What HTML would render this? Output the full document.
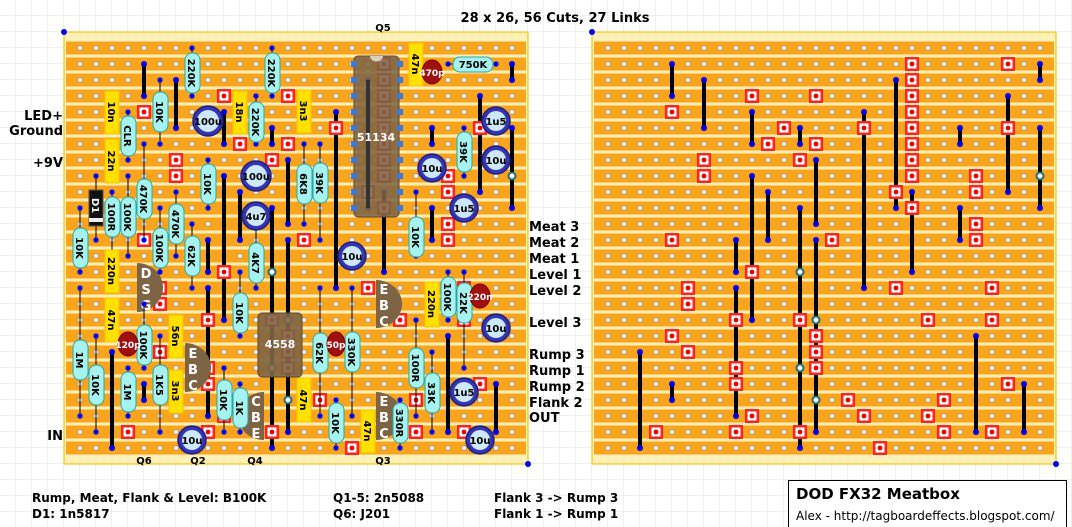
<!DOCTYPE html>
<html><head><meta charset="utf-8"><style>
html,body{margin:0;padding:0;background:#fff}
svg{display:block}
.t{font-family:"DejaVu Sans","Liberation Sans",sans-serif;font-weight:bold}
.rl{font-family:"DejaVu Sans","Liberation Sans",sans-serif;font-weight:bold;font-size:10px;fill:#000}
</style></head><body>
<svg width="1072" height="527" viewBox="0 0 1072 527" xmlns="http://www.w3.org/2000/svg">
<defs>
<pattern id="grid" width="16" height="16" patternUnits="userSpaceOnUse"><path d="M16 0V16H0" fill="none" stroke="#e2e2e2" stroke-width="1"/></pattern>
<pattern id="holes" x="0" y="0" width="16" height="16" patternUnits="userSpaceOnUse"><circle cx="0" cy="0" r="2.3" fill="#fff" stroke="#999" stroke-width="0.8"/><circle cx="16" cy="0" r="2.3" fill="#fff" stroke="#999" stroke-width="0.8"/><circle cx="0" cy="16" r="2.3" fill="#fff" stroke="#999" stroke-width="0.8"/><circle cx="16" cy="16" r="2.3" fill="#fff" stroke="#999" stroke-width="0.8"/></pattern>
<symbol id="cut" overflow="visible"><rect x="-7" y="-7" width="14" height="14" fill="#f22"/><rect x="-4.5" y="-4.5" width="9" height="9" fill="#fff"/><circle r="2.4" fill="#e00"/></symbol>
<g id="board">
<rect x="0" y="0" width="464" height="432" fill="#fdf0b8" stroke="#f2c400" stroke-width="1.2"/>
<g fill="#f8a41c">
<rect x="2" y="9.5" width="460" height="13"/><rect x="2" y="25.5" width="460" height="13"/><rect x="2" y="41.5" width="460" height="13"/><rect x="2" y="57.5" width="460" height="13"/><rect x="2" y="73.5" width="460" height="13"/><rect x="2" y="89.5" width="460" height="13"/><rect x="2" y="105.5" width="460" height="13"/><rect x="2" y="121.5" width="460" height="13"/><rect x="2" y="137.5" width="460" height="13"/><rect x="2" y="153.5" width="460" height="13"/><rect x="2" y="169.5" width="460" height="13"/><rect x="2" y="185.5" width="460" height="13"/><rect x="2" y="201.5" width="460" height="13"/><rect x="2" y="217.5" width="460" height="13"/><rect x="2" y="233.5" width="460" height="13"/><rect x="2" y="249.5" width="460" height="13"/><rect x="2" y="265.5" width="460" height="13"/><rect x="2" y="281.5" width="460" height="13"/><rect x="2" y="297.5" width="460" height="13"/><rect x="2" y="313.5" width="460" height="13"/><rect x="2" y="329.5" width="460" height="13"/><rect x="2" y="345.5" width="460" height="13"/><rect x="2" y="361.5" width="460" height="13"/><rect x="2" y="377.5" width="460" height="13"/><rect x="2" y="393.5" width="460" height="13"/><rect x="2" y="409.5" width="460" height="13"/>
</g>
<rect x="8" y="8" width="448" height="416" fill="url(#holes)"/>
</g>
<g id="tracks">
<g stroke="#000" stroke-width="4">
<line x1="672" y1="64" x2="672" y2="96"/><line x1="704" y1="80" x2="704" y2="128"/><line x1="752" y1="112" x2="752" y2="144"/><line x1="800" y1="128" x2="800" y2="144"/><line x1="864" y1="112" x2="864" y2="288"/><line x1="896" y1="80" x2="896" y2="208"/><line x1="960" y1="128" x2="960" y2="144"/><line x1="1008" y1="96" x2="1008" y2="192"/><line x1="1040" y1="64" x2="1040" y2="80"/><line x1="1040" y1="128" x2="1040" y2="208"/><line x1="912" y1="192" x2="912" y2="272"/><line x1="816" y1="160" x2="816" y2="224"/><line x1="768" y1="192" x2="768" y2="240"/><line x1="752" y1="176" x2="752" y2="320"/><line x1="800" y1="208" x2="800" y2="448"/><line x1="960" y1="208" x2="960" y2="240"/><line x1="736" y1="240" x2="736" y2="272"/><line x1="816" y1="240" x2="816" y2="432"/><line x1="736" y1="288" x2="736" y2="416"/><line x1="640" y1="352" x2="640" y2="448"/><line x1="672" y1="384" x2="672" y2="400"/><line x1="976" y1="336" x2="976" y2="432"/><line x1="1024" y1="384" x2="1024" y2="432"/>
</g>
<g fill="#0000ee">
<circle cx="672" cy="64" r="3"/><circle cx="672" cy="96" r="3"/><circle cx="704" cy="80" r="3"/><circle cx="704" cy="128" r="3"/><circle cx="752" cy="112" r="3"/><circle cx="752" cy="144" r="3"/><circle cx="800" cy="128" r="3"/><circle cx="800" cy="144" r="3"/><circle cx="864" cy="112" r="3"/><circle cx="864" cy="288" r="3"/><circle cx="896" cy="80" r="3"/><circle cx="896" cy="208" r="3"/><circle cx="960" cy="128" r="3"/><circle cx="960" cy="144" r="3"/><circle cx="1008" cy="96" r="3"/><circle cx="1008" cy="192" r="3"/><circle cx="1040" cy="64" r="3"/><circle cx="1040" cy="80" r="3"/><circle cx="1040" cy="128" r="3"/><circle cx="1040" cy="208" r="3"/><circle cx="912" cy="192" r="3"/><circle cx="912" cy="272" r="3"/><circle cx="816" cy="160" r="3"/><circle cx="816" cy="224" r="3"/><circle cx="768" cy="192" r="3"/><circle cx="768" cy="240" r="3"/><circle cx="752" cy="176" r="3"/><circle cx="752" cy="320" r="3"/><circle cx="800" cy="208" r="3"/><circle cx="800" cy="448" r="3"/><circle cx="960" cy="208" r="3"/><circle cx="960" cy="240" r="3"/><circle cx="736" cy="240" r="3"/><circle cx="736" cy="272" r="3"/><circle cx="816" cy="240" r="3"/><circle cx="816" cy="432" r="3"/><circle cx="736" cy="288" r="3"/><circle cx="736" cy="416" r="3"/><circle cx="640" cy="352" r="3"/><circle cx="640" cy="448" r="3"/><circle cx="672" cy="384" r="3"/><circle cx="672" cy="400" r="3"/><circle cx="976" cy="336" r="3"/><circle cx="976" cy="432" r="3"/><circle cx="1024" cy="384" r="3"/><circle cx="1024" cy="432" r="3"/>
</g>
<g>
<use href="#cut" x="912" y="64"/><use href="#cut" x="1008" y="64"/><use href="#cut" x="912" y="80"/><use href="#cut" x="752" y="96"/><use href="#cut" x="816" y="96"/><use href="#cut" x="912" y="96"/><use href="#cut" x="672" y="112"/><use href="#cut" x="912" y="112"/><use href="#cut" x="784" y="128"/><use href="#cut" x="864" y="128"/><use href="#cut" x="912" y="128"/><use href="#cut" x="1008" y="128"/><use href="#cut" x="768" y="144"/><use href="#cut" x="816" y="144"/><use href="#cut" x="912" y="144"/><use href="#cut" x="704" y="160"/><use href="#cut" x="800" y="160"/><use href="#cut" x="912" y="160"/><use href="#cut" x="704" y="176"/><use href="#cut" x="912" y="176"/><use href="#cut" x="976" y="176"/><use href="#cut" x="896" y="192"/><use href="#cut" x="976" y="192"/><use href="#cut" x="912" y="208"/><use href="#cut" x="976" y="224"/><use href="#cut" x="672" y="240"/><use href="#cut" x="832" y="240"/><use href="#cut" x="976" y="240"/>
<use href="#cut" x="752" y="272"/><use href="#cut" x="688" y="288"/><use href="#cut" x="896" y="288"/><use href="#cut" x="992" y="288"/><use href="#cut" x="688" y="304"/><use href="#cut" x="736" y="320"/><use href="#cut" x="800" y="320"/><use href="#cut" x="928" y="320"/><use href="#cut" x="992" y="320"/><use href="#cut" x="672" y="336"/><use href="#cut" x="816" y="336"/><use href="#cut" x="688" y="352"/><use href="#cut" x="816" y="352"/><use href="#cut" x="736" y="368"/><use href="#cut" x="816" y="368"/><use href="#cut" x="736" y="384"/><use href="#cut" x="1008" y="384"/><use href="#cut" x="848" y="400"/><use href="#cut" x="944" y="400"/><use href="#cut" x="752" y="416"/><use href="#cut" x="864" y="416"/><use href="#cut" x="928" y="416"/><use href="#cut" x="656" y="432"/><use href="#cut" x="736" y="432"/><use href="#cut" x="800" y="432"/><use href="#cut" x="944" y="432"/><use href="#cut" x="992" y="432"/><use href="#cut" x="880" y="448"/>
</g>
<g fill="#fff" stroke="#1a6e84" stroke-width="2">
<circle cx="1040" cy="176" r="3.5"/><circle cx="800" cy="272" r="3.5"/><circle cx="816" cy="320" r="3.5"/><circle cx="800" cy="368" r="3.5"/><circle cx="816" cy="400" r="3.5"/>
</g>
</g>
</defs>
<rect width="1072" height="527" fill="url(#grid)"/>
<use href="#board" x="64" y="32"/>
<use href="#board" x="592" y="32"/>
<use href="#tracks"/>
<use href="#tracks" x="-528"/>
<g fill="#0000ee"><circle cx="64" cy="32" r="3"/><circle cx="528" cy="464" r="3"/><circle cx="592" cy="32" r="3"/><circle cx="1056" cy="464" r="3"/></g>

<!-- ICs -->
<g>
<rect x="354" y="56" width="45" height="161" rx="4" fill="#7d6444" fill-opacity="0.88" stroke="#5a4630"/>
<path d="M370 56 a6 5 0 0 0 13 0z" fill="#d8cfc0"/>
<line x1="368" y1="80" x2="368" y2="208" stroke="#333" stroke-width="4"/>
<g fill="#3a7ae0"><rect x="351" y="61" width="6" height="6"/><rect x="351" y="77" width="6" height="6"/><rect x="351" y="93" width="6" height="6"/><rect x="351" y="109" width="6" height="6"/><rect x="351" y="125" width="6" height="6"/><rect x="351" y="141" width="6" height="6"/><rect x="351" y="157" width="6" height="6"/><rect x="351" y="173" width="6" height="6"/><rect x="351" y="189" width="6" height="6"/><rect x="351" y="205" width="6" height="6"/><rect x="397" y="61" width="6" height="6"/><rect x="397" y="77" width="6" height="6"/><rect x="397" y="93" width="6" height="6"/><rect x="397" y="109" width="6" height="6"/><rect x="397" y="125" width="6" height="6"/><rect x="397" y="141" width="6" height="6"/><rect x="397" y="157" width="6" height="6"/><rect x="397" y="173" width="6" height="6"/><rect x="397" y="189" width="6" height="6"/><rect x="397" y="205" width="6" height="6"/></g>
<text x="376" y="141" text-anchor="middle" class="t" font-size="11" fill="#fff">51134</text>
<rect x="258" y="313" width="44" height="64" rx="4" fill="#7d6444" fill-opacity="0.9" stroke="#5a4630"/>
<text x="280" y="348" text-anchor="middle" class="t" font-size="11" fill="#fff">4558</text>
</g>

<!-- Transistors -->
<g fill="#7d6444">
<path d="M137 263 a26 24.5 0 0 1 0 49z"/>
<path d="M185 343 a26 24.5 0 0 1 0 49z"/>
<path d="M264 392 a26 24 0 0 0 0 48z"/>
<path d="M376 280 a26 24 0 0 1 0 48z"/>
<path d="M376 392 a26 24 0 0 1 0 48z"/>
</g>
<g class="t" font-size="13" fill="#fff" text-anchor="middle">
<text x="146" y="278">D</text><text x="146" y="294">S</text><text x="146" y="310">G</text>
<text x="193" y="358">E</text><text x="193" y="374">B</text><text x="193" y="390">C</text>
<text x="256" y="406">C</text><text x="256" y="422">B</text><text x="256" y="438">E</text>
<text x="384" y="294">E</text><text x="384" y="310">B</text><text x="384" y="326">C</text>
<text x="384" y="406">E</text><text x="384" y="422">B</text><text x="384" y="438">C</text>
</g>

<!-- resistor leads -->
<g stroke="#000" stroke-width="1">
<line x1="192" y1="48" x2="192" y2="96"/><line x1="272" y1="48" x2="272" y2="96"/><line x1="160" y1="80" x2="160" y2="144"/><line x1="128" y1="112" x2="128" y2="160"/><line x1="256" y1="96" x2="256" y2="144"/><line x1="144" y1="144" x2="144" y2="240"/><line x1="112" y1="192" x2="112" y2="256"/><line x1="128" y1="176" x2="128" y2="256"/><line x1="176" y1="192" x2="176" y2="256"/><line x1="208" y1="160" x2="208" y2="208"/><line x1="80" y1="208" x2="80" y2="272"/><line x1="160" y1="208" x2="160" y2="272"/><line x1="192" y1="224" x2="192" y2="288"/><line x1="256" y1="224" x2="256" y2="288"/><line x1="240" y1="272" x2="240" y2="336"/><line x1="80" y1="288" x2="80" y2="416"/><line x1="96" y1="336" x2="96" y2="432"/><line x1="144" y1="304" x2="144" y2="368"/><line x1="128" y1="368" x2="128" y2="416"/><line x1="160" y1="336" x2="160" y2="432"/><line x1="224" y1="368" x2="224" y2="432"/><line x1="240" y1="384" x2="240" y2="432"/><line x1="416" y1="192" x2="416" y2="256"/><line x1="448" y1="272" x2="448" y2="320"/><line x1="464" y1="272" x2="464" y2="368"/><line x1="320" y1="288" x2="320" y2="416"/><line x1="352" y1="288" x2="352" y2="416"/><line x1="416" y1="320" x2="416" y2="416"/><line x1="432" y1="352" x2="432" y2="432"/><line x1="336" y1="400" x2="336" y2="448"/><line x1="400" y1="400" x2="400" y2="448"/><line x1="304" y1="144" x2="304" y2="224"/><line x1="320" y1="144" x2="320" y2="240"/><line x1="464" y1="128" x2="464" y2="176"/><line x1="448" y1="64" x2="496" y2="64"/><line x1="96" y1="176" x2="96" y2="240"/>
</g>
<g fill="#0000ee">
<circle cx="192" cy="48" r="2.6"/><circle cx="192" cy="96" r="2.6"/><circle cx="272" cy="48" r="2.6"/><circle cx="272" cy="96" r="2.6"/><circle cx="160" cy="80" r="2.6"/><circle cx="160" cy="144" r="2.6"/><circle cx="128" cy="112" r="2.6"/><circle cx="128" cy="160" r="2.6"/><circle cx="256" cy="96" r="2.6"/><circle cx="256" cy="144" r="2.6"/><circle cx="144" cy="144" r="2.6"/><circle cx="144" cy="240" r="2.6"/><circle cx="112" cy="192" r="2.6"/><circle cx="112" cy="256" r="2.6"/><circle cx="128" cy="176" r="2.6"/><circle cx="128" cy="256" r="2.6"/><circle cx="176" cy="192" r="2.6"/><circle cx="176" cy="256" r="2.6"/><circle cx="208" cy="160" r="2.6"/><circle cx="208" cy="208" r="2.6"/><circle cx="80" cy="208" r="2.6"/><circle cx="80" cy="272" r="2.6"/><circle cx="160" cy="208" r="2.6"/><circle cx="160" cy="272" r="2.6"/><circle cx="192" cy="224" r="2.6"/><circle cx="192" cy="288" r="2.6"/><circle cx="256" cy="224" r="2.6"/><circle cx="256" cy="288" r="2.6"/><circle cx="240" cy="272" r="2.6"/><circle cx="240" cy="336" r="2.6"/><circle cx="80" cy="288" r="2.6"/><circle cx="80" cy="416" r="2.6"/><circle cx="96" cy="336" r="2.6"/><circle cx="96" cy="432" r="2.6"/><circle cx="144" cy="304" r="2.6"/><circle cx="144" cy="368" r="2.6"/><circle cx="128" cy="368" r="2.6"/><circle cx="128" cy="416" r="2.6"/><circle cx="160" cy="336" r="2.6"/><circle cx="160" cy="432" r="2.6"/><circle cx="224" cy="368" r="2.6"/><circle cx="224" cy="432" r="2.6"/><circle cx="240" cy="384" r="2.6"/><circle cx="240" cy="432" r="2.6"/><circle cx="416" cy="192" r="2.6"/><circle cx="416" cy="256" r="2.6"/><circle cx="448" cy="272" r="2.6"/><circle cx="448" cy="320" r="2.6"/><circle cx="464" cy="272" r="2.6"/><circle cx="464" cy="368" r="2.6"/><circle cx="320" cy="288" r="2.6"/><circle cx="320" cy="416" r="2.6"/><circle cx="352" cy="288" r="2.6"/><circle cx="352" cy="416" r="2.6"/><circle cx="416" cy="320" r="2.6"/><circle cx="416" cy="416" r="2.6"/><circle cx="432" cy="352" r="2.6"/><circle cx="432" cy="432" r="2.6"/><circle cx="336" cy="400" r="2.6"/><circle cx="336" cy="448" r="2.6"/><circle cx="400" cy="400" r="2.6"/><circle cx="400" cy="448" r="2.6"/><circle cx="304" cy="144" r="2.6"/><circle cx="304" cy="224" r="2.6"/><circle cx="320" cy="144" r="2.6"/><circle cx="320" cy="240" r="2.6"/><circle cx="464" cy="128" r="2.6"/><circle cx="464" cy="176" r="2.6"/><circle cx="448" cy="64" r="2.6"/><circle cx="496" cy="64" r="2.6"/><circle cx="96" cy="176" r="2.6"/><circle cx="96" cy="240" r="2.6"/>
</g>

<!-- diode -->
<rect x="89" y="190" width="14" height="36" fill="#111" stroke="#555"/>
<rect x="89" y="218" width="14" height="4" fill="#eee"/>
<text transform="translate(92 198) rotate(90)" class="t" font-size="10" fill="#fff">D1</text>

<!-- yellow caps -->
<g fill="#ffe000" stroke="#f2c400">
<rect x="105" y="91" width="14" height="43"/><rect x="105" y="139" width="14" height="44"/><rect x="233" y="91" width="14" height="43"/><rect x="297" y="90" width="14" height="43"/><rect x="409" y="43" width="14" height="43"/><rect x="105" y="250" width="14" height="43"/><rect x="105" y="298" width="14" height="44"/><rect x="169" y="315" width="14" height="43"/><rect x="169" y="370" width="14" height="43"/><rect x="297" y="378" width="14" height="44"/><rect x="361" y="410" width="14" height="43"/><rect x="425" y="282" width="14" height="45"/>
</g>
<g class="rl">
<text transform="translate(108 112) rotate(90)" text-anchor="middle">10n</text>
<text transform="translate(108 161) rotate(90)" text-anchor="middle">22n</text>
<text transform="translate(236 112) rotate(90)" text-anchor="middle">18n</text>
<text transform="translate(300 111) rotate(90)" text-anchor="middle">3n3</text>
<text transform="translate(412 64) rotate(90)" text-anchor="middle">47n</text>
<text transform="translate(108 271) rotate(90)" text-anchor="middle">220n</text>
<text transform="translate(108 320) rotate(90)" text-anchor="middle">47n</text>
<text transform="translate(172 336) rotate(90)" text-anchor="middle">56n</text>
<text transform="translate(172 391) rotate(90)" text-anchor="middle">3n3</text>
<text transform="translate(300 400) rotate(90)" text-anchor="middle">47n</text>
<text transform="translate(364 431) rotate(90)" text-anchor="middle">47n</text>
<text transform="translate(428 304) rotate(90)" text-anchor="middle">220n</text>
</g>

<!-- resistor bodies -->
<g fill="#a6f2ee" stroke="#2ba6a6" stroke-width="1">
<rect x="185" y="53" width="15" height="40" rx="7"/><rect x="265" y="53" width="15" height="40" rx="7"/><rect x="153" y="92" width="15" height="40" rx="7"/><rect x="121" y="116" width="15" height="40" rx="7"/><rect x="249" y="102" width="15" height="40" rx="7"/><rect x="137" y="179" width="15" height="40" rx="7"/><rect x="105" y="197" width="15" height="40" rx="7"/><rect x="121" y="197" width="15" height="40" rx="7"/><rect x="169" y="204" width="15" height="40" rx="7"/><rect x="201" y="164" width="15" height="40" rx="7"/><rect x="73" y="228" width="15" height="40" rx="7"/><rect x="153" y="228" width="15" height="40" rx="7"/><rect x="185" y="236" width="15" height="40" rx="7"/><rect x="249" y="243" width="15" height="40" rx="7"/><rect x="233" y="293" width="15" height="40" rx="7"/><rect x="73" y="340" width="15" height="40" rx="7"/><rect x="89" y="365" width="15" height="40" rx="7"/><rect x="137" y="325" width="15" height="40" rx="7"/><rect x="121" y="372" width="15" height="40" rx="7"/><rect x="153" y="365" width="15" height="40" rx="7"/><rect x="217" y="380" width="15" height="40" rx="7"/><rect x="233" y="388" width="15" height="40" rx="7"/><rect x="409" y="217" width="15" height="40" rx="7"/><rect x="441" y="277" width="15" height="40" rx="7"/><rect x="457" y="283" width="15" height="40" rx="7"/><rect x="313" y="333" width="15" height="40" rx="7"/><rect x="345" y="332" width="15" height="40" rx="7"/><rect x="409" y="348" width="15" height="40" rx="7"/><rect x="425" y="373" width="15" height="40" rx="7"/><rect x="329" y="403" width="15" height="40" rx="7"/><rect x="393" y="403" width="15" height="40" rx="7"/><rect x="297" y="164" width="15" height="40" rx="7"/><rect x="313" y="163" width="15" height="40" rx="7"/><rect x="457" y="132" width="15" height="40" rx="7"/><rect x="453" y="57" width="40" height="15" rx="7"/>
</g>
<g class="rl">
<text transform="translate(188 73) rotate(90)" text-anchor="middle">220K</text>
<text transform="translate(268 73) rotate(90)" text-anchor="middle">220K</text>
<text transform="translate(156 112) rotate(90)" text-anchor="middle">10K</text>
<text transform="translate(124 136) rotate(90)" text-anchor="middle">CLR</text>
<text transform="translate(252 122) rotate(90)" text-anchor="middle">220K</text>
<text transform="translate(140 199) rotate(90)" text-anchor="middle">470K</text>
<text transform="translate(108 217) rotate(90)" text-anchor="middle">100R</text>
<text transform="translate(124 217) rotate(90)" text-anchor="middle">100K</text>
<text transform="translate(172 224) rotate(90)" text-anchor="middle">470K</text>
<text transform="translate(204 184) rotate(90)" text-anchor="middle">10K</text>
<text transform="translate(76 248) rotate(90)" text-anchor="middle">10K</text>
<text transform="translate(156 248) rotate(90)" text-anchor="middle">100K</text>
<text transform="translate(188 256) rotate(90)" text-anchor="middle">62K</text>
<text transform="translate(252 263) rotate(90)" text-anchor="middle">4K7</text>
<text transform="translate(236 313) rotate(90)" text-anchor="middle">10K</text>
<text transform="translate(76 360) rotate(90)" text-anchor="middle">1M</text>
<text transform="translate(92 385) rotate(90)" text-anchor="middle">10K</text>
<text transform="translate(140 345) rotate(90)" text-anchor="middle">100K</text>
<text transform="translate(124 392) rotate(90)" text-anchor="middle">1M</text>
<text transform="translate(156 385) rotate(90)" text-anchor="middle">1K5</text>
<text transform="translate(220 400) rotate(90)" text-anchor="middle">10K</text>
<text transform="translate(236 408) rotate(90)" text-anchor="middle">1K</text>
<text transform="translate(412 237) rotate(90)" text-anchor="middle">10K</text>
<text transform="translate(444 297) rotate(90)" text-anchor="middle">100K</text>
<text transform="translate(460 303) rotate(90)" text-anchor="middle">22K</text>
<text transform="translate(316 353) rotate(90)" text-anchor="middle">62K</text>
<text transform="translate(348 352) rotate(90)" text-anchor="middle">330K</text>
<text transform="translate(412 368) rotate(90)" text-anchor="middle">100R</text>
<text transform="translate(428 393) rotate(90)" text-anchor="middle">33K</text>
<text transform="translate(332 423) rotate(90)" text-anchor="middle">10K</text>
<text transform="translate(396 423) rotate(90)" text-anchor="middle">330R</text>
<text transform="translate(300 184) rotate(90)" text-anchor="middle">6K8</text>
<text transform="translate(316 183) rotate(90)" text-anchor="middle">39K</text>
<text transform="translate(460 152) rotate(90)" text-anchor="middle">39K</text>
<text x="473" y="68" text-anchor="middle">750K</text>
</g>

<!-- ceramic caps -->
<g fill="#a01010" stroke="#700">
<ellipse cx="432" cy="72" rx="10" ry="12"/><ellipse cx="128" cy="344" rx="10" ry="12"/><ellipse cx="336" cy="344" rx="9" ry="12"/><ellipse cx="480" cy="296" rx="10" ry="12"/>
</g>
<g class="t" font-size="9" fill="#fff" text-anchor="middle">
<text x="432" y="76">470p</text><text x="128" y="348">120p</text><text x="336" y="348">50p</text><text x="480" y="300">220n</text>
</g>

<!-- electrolytics -->
<g fill="#3434b4" stroke="#20207a" stroke-width="1.5">
<circle cx="208" cy="121" r="15"/><circle cx="256" cy="176" r="15"/><circle cx="256" cy="216" r="14"/><circle cx="496" cy="121" r="14"/><circle cx="496" cy="160" r="14"/><circle cx="432" cy="168" r="14"/><circle cx="464" cy="208" r="14"/><circle cx="352" cy="256" r="14"/><circle cx="496" cy="328" r="14"/><circle cx="464" cy="392" r="14"/><circle cx="480" cy="440" r="14"/><circle cx="192" cy="440" r="14"/>
</g>
<g fill="#cde8f6">
<circle cx="208" cy="121" r="11"/><circle cx="256" cy="176" r="11"/><circle cx="256" cy="216" r="10"/><circle cx="496" cy="121" r="10"/><circle cx="496" cy="160" r="10"/><circle cx="432" cy="168" r="10"/><circle cx="464" cy="208" r="10"/><circle cx="352" cy="256" r="10"/><circle cx="496" cy="328" r="10"/><circle cx="464" cy="392" r="10"/><circle cx="480" cy="440" r="10"/><circle cx="192" cy="440" r="10"/>
</g>
<g class="rl" text-anchor="middle">
<text x="208" y="125">100u</text><text x="256" y="180">100u</text><text x="256" y="220">4u7</text><text x="496" y="125">1u5</text><text x="496" y="164">10u</text><text x="432" y="172">10u</text><text x="464" y="212">1u5</text><text x="352" y="260">10u</text><text x="496" y="332">10u</text><text x="464" y="396">1u5</text><text x="480" y="444">10u</text><text x="192" y="444">10u</text>
</g>

<!-- labels -->
<g class="t" font-size="13" fill="#000">
<text x="555" y="22" text-anchor="middle">28 x 26, 56 Cuts, 27 Links</text>
<text x="63" y="120" text-anchor="end">LED+</text>
<text x="63" y="135" text-anchor="end">Ground</text>
<text x="63" y="167" text-anchor="end">+9V</text>
<text x="63" y="440" text-anchor="end">IN</text>
<text x="529" y="231">Meat 3</text><text x="529" y="247">Meat 2</text><text x="529" y="263">Meat 1</text><text x="529" y="279">Level 1</text><text x="529" y="295">Level 2</text><text x="529" y="327">Level 3</text><text x="529" y="359">Rump 3</text><text x="529" y="375">Rump 1</text><text x="529" y="391">Rump 2</text><text x="529" y="407">Flank 2</text><text x="529" y="422">OUT</text>
</g>
<g class="t" font-size="10" fill="#000" text-anchor="middle">
<text x="383" y="31">Q5</text><text x="144" y="464">Q6</text><text x="198" y="464">Q2</text><text x="255" y="464">Q4</text><text x="383" y="464">Q3</text>
</g>
<g class="t" font-size="12" fill="#000">
<text x="32" y="502">Rump, Meat, Flank &amp; Level: B100K</text>
<text x="32" y="518">D1: 1n5817</text>
<text x="333" y="502">Q1-5: 2n5088</text>
<text x="333" y="518">Q6: J201</text>
<text x="494" y="502">Flank 3 -&gt; Rump 3</text>
<text x="494" y="518">Flank 1 -&gt; Rump 1</text>
</g>
<rect x="788.5" y="480.5" width="278" height="50" fill="#fff" stroke="#000"/>
<text x="796" y="499" class="t" font-size="15" fill="#000">DOD FX32 Meatbox</text>
<text x="796" y="520" font-family="DejaVu Sans, Liberation Sans, sans-serif" font-size="12" fill="#000">Alex - http://tagboardeffects.blogspot.com/</text>
</svg>
</body></html>
